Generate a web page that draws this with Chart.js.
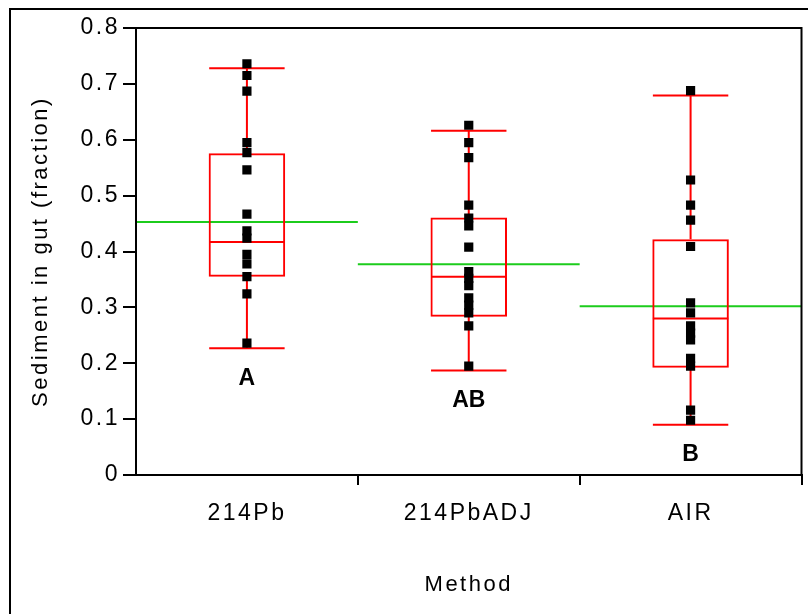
<!DOCTYPE html>
<html>
<head>
<meta charset="utf-8">
<script src="https://cdn.jsdelivr.net/npm/chart.js@4.4.0/dist/chart.umd.min.js"></script>
<style>
  html, body { margin: 0; padding: 0; background: #fff; }
</style>
</head>
<body>
<canvas id="gutChart" width="808" height="614"></canvas>
<script>
const methods = ["214Pb", "214PbADJ", "AIR"];

// individual observations per method
const pb214 = [0.736, 0.715, 0.687, 0.595, 0.577, 0.546, 0.467, 0.437, 0.424, 0.395, 0.378, 0.355, 0.324, 0.236];
const pb214adj = [0.626, 0.595, 0.568, 0.483, 0.460, 0.446, 0.408, 0.364, 0.352, 0.339, 0.317, 0.304, 0.290, 0.267, 0.195];
const air = [0.688, 0.528, 0.483, 0.456, 0.409, 0.308, 0.290, 0.267, 0.254, 0.242, 0.209, 0.195, 0.116, 0.098];

// box plot summaries, one entry per method
const whiskerLow = [0.227, 0.187, 0.090];
const q1 = [0.355, 0.283, 0.192];
const median = [0.417, 0.355, 0.280];
const q3 = [0.576, 0.461, 0.422];
const whiskerHigh = [0.728, 0.616, 0.679];
const means = [0.453, 0.377, 0.302];

// significance groups
const groupLetters = ["A", "AB", "B"];

const RED = "#ff0000";
const GREEN = "#1ccc1c";
const SPACING = "2.5px";

Chart.defaults.font.family = "'Liberation Sans', Arial, sans-serif";
Chart.defaults.color = "#000";

const points = [];
[pb214, pb214adj, air].forEach((vals, i) => {
  vals.forEach(v => points.push({ x: methods[i], y: v }));
});

const boxPlugin = {
  id: "boxParts",
  beforeLayout(chart) {
    chart.ctx.letterSpacing = SPACING;
  },
  beforeDraw(chart) {
    const c = chart.ctx;
    c.letterSpacing = SPACING;
    c.save();
    c.strokeStyle = "#000";
    c.lineWidth = 2;
    c.strokeRect(10, 9, 1000, 1000);
    c.restore();
  },
  beforeDatasetsDraw(chart) {
    const c = chart.ctx;
    const x = chart.scales.x;
    const y = chart.scales.y;
    const catW = x.width / methods.length;
    const half = catW * 0.17;
    c.save();
    // mean lines across each category
    c.strokeStyle = GREEN;
    c.lineWidth = 2;
    means.forEach((m, i) => {
      const cx = x.getPixelForValue(i);
      const py = y.getPixelForValue(m);
      c.beginPath();
      c.moveTo(cx - catW / 2, py);
      c.lineTo(cx + catW / 2, py);
      c.stroke();
    });
    // whiskers and medians
    c.strokeStyle = RED;
    methods.forEach((m, i) => {
      const cx = x.getPixelForValue(i);
      const lo = y.getPixelForValue(whiskerLow[i]);
      const hi = y.getPixelForValue(whiskerHigh[i]);
      const b1 = y.getPixelForValue(q1[i]);
      const b3 = y.getPixelForValue(q3[i]);
      const md = y.getPixelForValue(median[i]);
      c.beginPath();
      c.moveTo(cx, lo); c.lineTo(cx, b1);
      c.moveTo(cx, b3); c.lineTo(cx, hi);
      c.moveTo(cx - half, lo); c.lineTo(cx + half, lo);
      c.moveTo(cx - half, hi); c.lineTo(cx + half, hi);
      c.moveTo(cx - half, md); c.lineTo(cx + half, md);
      c.stroke();
    });
    c.restore();
  },
  afterDraw(chart) {
    const c = chart.ctx;
    const a = chart.chartArea;
    const x = chart.scales.x;
    const y = chart.scales.y;
    c.save();
    c.strokeStyle = "#000";
    c.lineWidth = 2;
    c.strokeRect(a.left, a.top, a.right - a.left, a.bottom - a.top);
    c.fillStyle = "#000";
    c.letterSpacing = "0px";
    c.font = "bold 23px 'Liberation Sans', Arial, sans-serif";
    c.textAlign = "center";
    c.textBaseline = "middle";
    groupLetters.forEach((t, i) => {
      c.fillText(t, x.getPixelForValue(i), y.getPixelForValue(whiskerLow[i]) + 30);
    });
    c.restore();
  }
};

new Chart(document.getElementById("gutChart"), {
  data: {
    labels: methods,
    datasets: [
      {
        type: "bar",
        data: methods.map((m, i) => [q1[i], q3[i]]),
        backgroundColor: "rgba(0,0,0,0)",
        borderColor: RED,
        borderWidth: 2,
        borderSkipped: false,
        categoryPercentage: 1,
        barPercentage: 0.345,
        order: 2
      },
      {
        type: "line",
        data: points,
        showLine: false,
        pointStyle: "rect",
        pointRadius: 6.5,
        pointBackgroundColor: "#000",
        pointBorderColor: "#000",
        pointBorderWidth: 0,
        order: 1
      }
    ]
  },
  options: {
    responsive: false,
    animation: false,
    layout: { padding: { left: 0, right: 2, top: 28, bottom: 0 } },
    plugins: {
      legend: { display: false },
      tooltip: { enabled: false }
    },
    scales: {
      x: {
        type: "category",
        offset: true,
        grid: {
          offset: true,
          drawOnChartArea: false,
          tickLength: 10,
          lineWidth: 2,
          color: ctx => (ctx.index === 0 || ctx.index === methods.length) ? "rgba(0,0,0,0)" : "#000"
        },
        border: { color: "#000", width: 2 },
        ticks: { font: { size: 23 }, color: "#000", padding: 15 },
        title: { display: true, text: "Method", font: { size: 22 }, color: "#000", padding: { top: 0, bottom: 16 } },
        afterFit: s => { s.height = 139; }
      },
      y: {
        min: 0,
        max: 0.8,
        grid: { drawOnChartArea: false, tickLength: 13, lineWidth: 2, color: "#000" },
        border: { color: "#000", width: 2 },
        ticks: {
          stepSize: 0.1,
          font: { size: 23 },
          color: "#000",
          padding: 3,
          callback: v => v === 0 ? "0" : v.toFixed(1)
        },
        title: { display: true, text: "Sediment in gut (fraction)", font: { size: 22 }, color: "#000", padding: { top: 28, bottom: 0 } },
        afterFit: s => { s.width = 136; }
      }
    }
  },
  plugins: [boxPlugin]
});
</script>
</body>
</html>
